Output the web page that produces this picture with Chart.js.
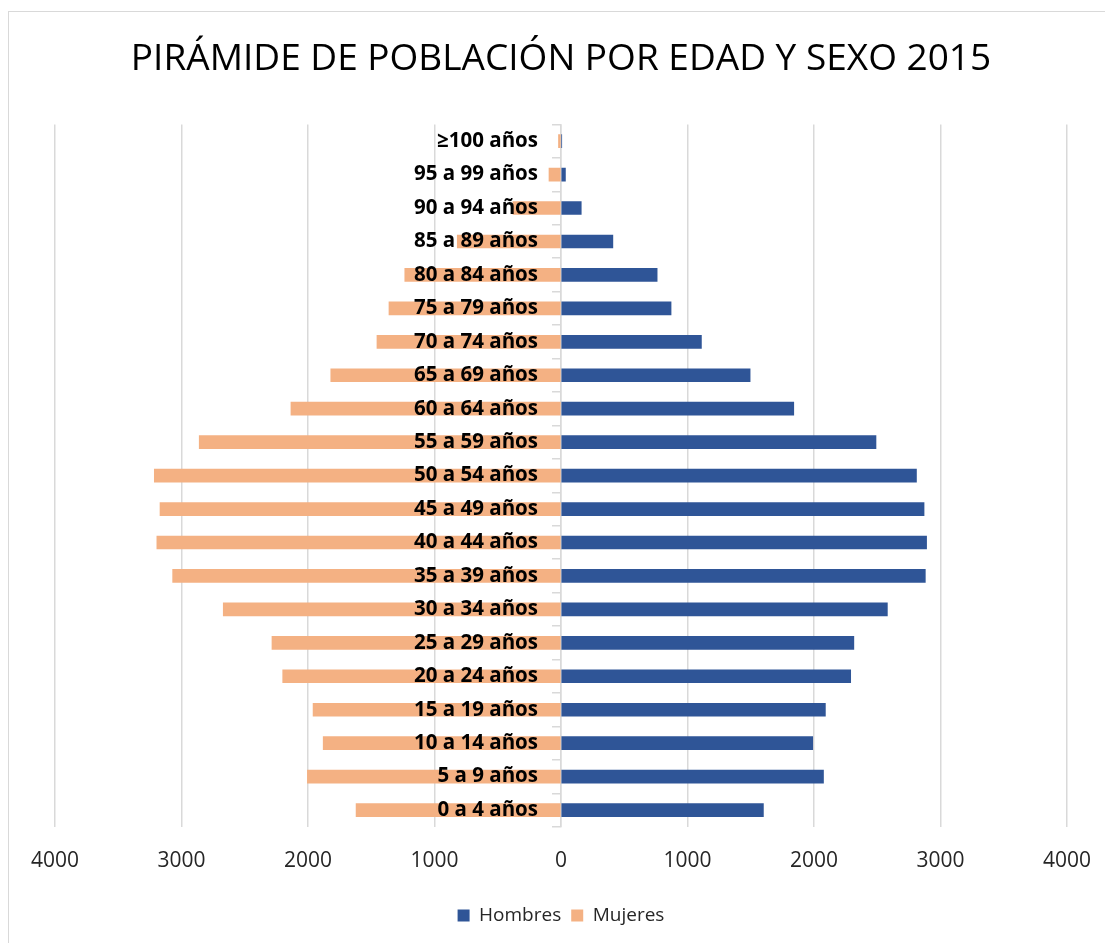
<!DOCTYPE html>
<html>
<head>
<meta charset="utf-8">
<script src="https://cdn.jsdelivr.net/npm/chart.js@4.4.1/dist/chart.umd.min.js"></script>
<style>
  html, body { margin: 0; padding: 0; background: #fff; overflow: hidden; }
  #box {
    position: absolute; left: 8px; top: 11px;
    width: 1110px; height: 965px;
    border: 1px solid #d9d9d9; background: #fff;
  }
</style>
</head>
<body>
<div id="box"><canvas id="myChart"></canvas></div>
<script>
// age groups, youngest first (axis is reversed so the oldest sits on top)
const edades = [
  '0 a 4 años', '5 a 9 años', '10 a 14 años', '15 a 19 años', '20 a 24 años',
  '25 a 29 años', '30 a 34 años', '35 a 39 años', '40 a 44 años', '45 a 49 años',
  '50 a 54 años', '55 a 59 años', '60 a 64 años', '65 a 69 años', '70 a 74 años',
  '75 a 79 años', '80 a 84 años', '85 a 89 años', '90 a 94 años', '95 a 99 años',
  '≥100 años'
];
const hombres = [1600, 2075, 1990, 2090, 2290, 2315, 2580, 2880, 2890, 2870,
                 2810, 2490, 1840, 1495, 1110, 870, 760, 410, 160, 35, 5];
const mujeres = [1620, 2005, 1880, 1960, 2200, 2285, 2670, 3070, 3195, 3170,
                 3215, 2860, 2135, 1820, 1455, 1360, 1235, 820, 380, 95, 20];
const ticksX = [-4000, -3000, -2000, -1000, 0, 1000, 2000, 3000, 4000];

const FONT = "'Open Sans', 'DejaVu Sans', sans-serif";

function createChart() {
  var ctx = document.getElementById('myChart').getContext('2d');
  new Chart(ctx, {
    type: 'bar',
    data: {
      labels: edades,
      datasets: [{
        label: 'Hombres',
        data: hombres,
        backgroundColor: '#2f5597',
        barThickness: 13
      }, {
        label: 'Mujeres',
        data: mujeres.map(v => -v),
        backgroundColor: '#f4b183',
        barThickness: 13
      }]
    },
    options: {
      indexAxis: 'y',
      responsive: true,
      maintainAspectRatio: false,
      animation: false,
      layout: { padding: { left: 46, right: 52, top: 0, bottom: 42 } },
      scales: {
        x: {
          stacked: true,
          min: ticksX[0],
          max: ticksX[ticksX.length - 1],
          afterBuildTicks: s => { s.ticks = ticksX.map(v => ({ value: v })); },
          grid: { color: '#d9d9d9', lineWidth: 1.5, drawTicks: false },
          border: { display: false },
          ticks: {
            padding: 22,
            color: '#262626',
            font: { family: FONT, size: 21 },
            callback: v => Math.abs(v)
          }
        },
        // axis line + small tick marks at x = 0
        y: {
          axis: 'y',
          type: 'category',
          stacked: true,
          reverse: true,
          offset: true,
          position: { x: 0 },
          grid: { offset: true, drawOnChartArea: false, color: '#d9d9d9', lineWidth: 1.5, tickLength: 8 },
          border: { color: '#d9d9d9', width: 1.5 },
          ticks: { display: false }
        },
        // age group labels, right-aligned just left of the centre line, over the bars
        y2: {
          axis: 'y',
          type: 'category',
          reverse: true,
          offset: true,
          position: { x: -182 },
          grid: { display: false },
          border: { display: false },
          ticks: {
            z: 1,
            color: '#000',
            font: { family: FONT, size: 20.5, weight: 'bold' }
          }
        }
      },
      plugins: {
        title: {
          display: true,
          text: 'PIRÁMIDE DE POBLACIÓN POR EDAD Y SEXO 2015',
          color: '#000',
          font: { family: FONT, size: 37, weight: 'normal' },
          padding: { top: 25, bottom: 43 }
        },
        legend: {
          position: 'bottom',
          labels: {
            boxWidth: 12,
            boxHeight: 12,
            padding: 10,
            color: '#262626',
            font: { family: FONT, size: 19 }
          }
        },
        tooltip: { enabled: false }
      }
    }
  });
}

createChart();
</script>
</body>
</html>
